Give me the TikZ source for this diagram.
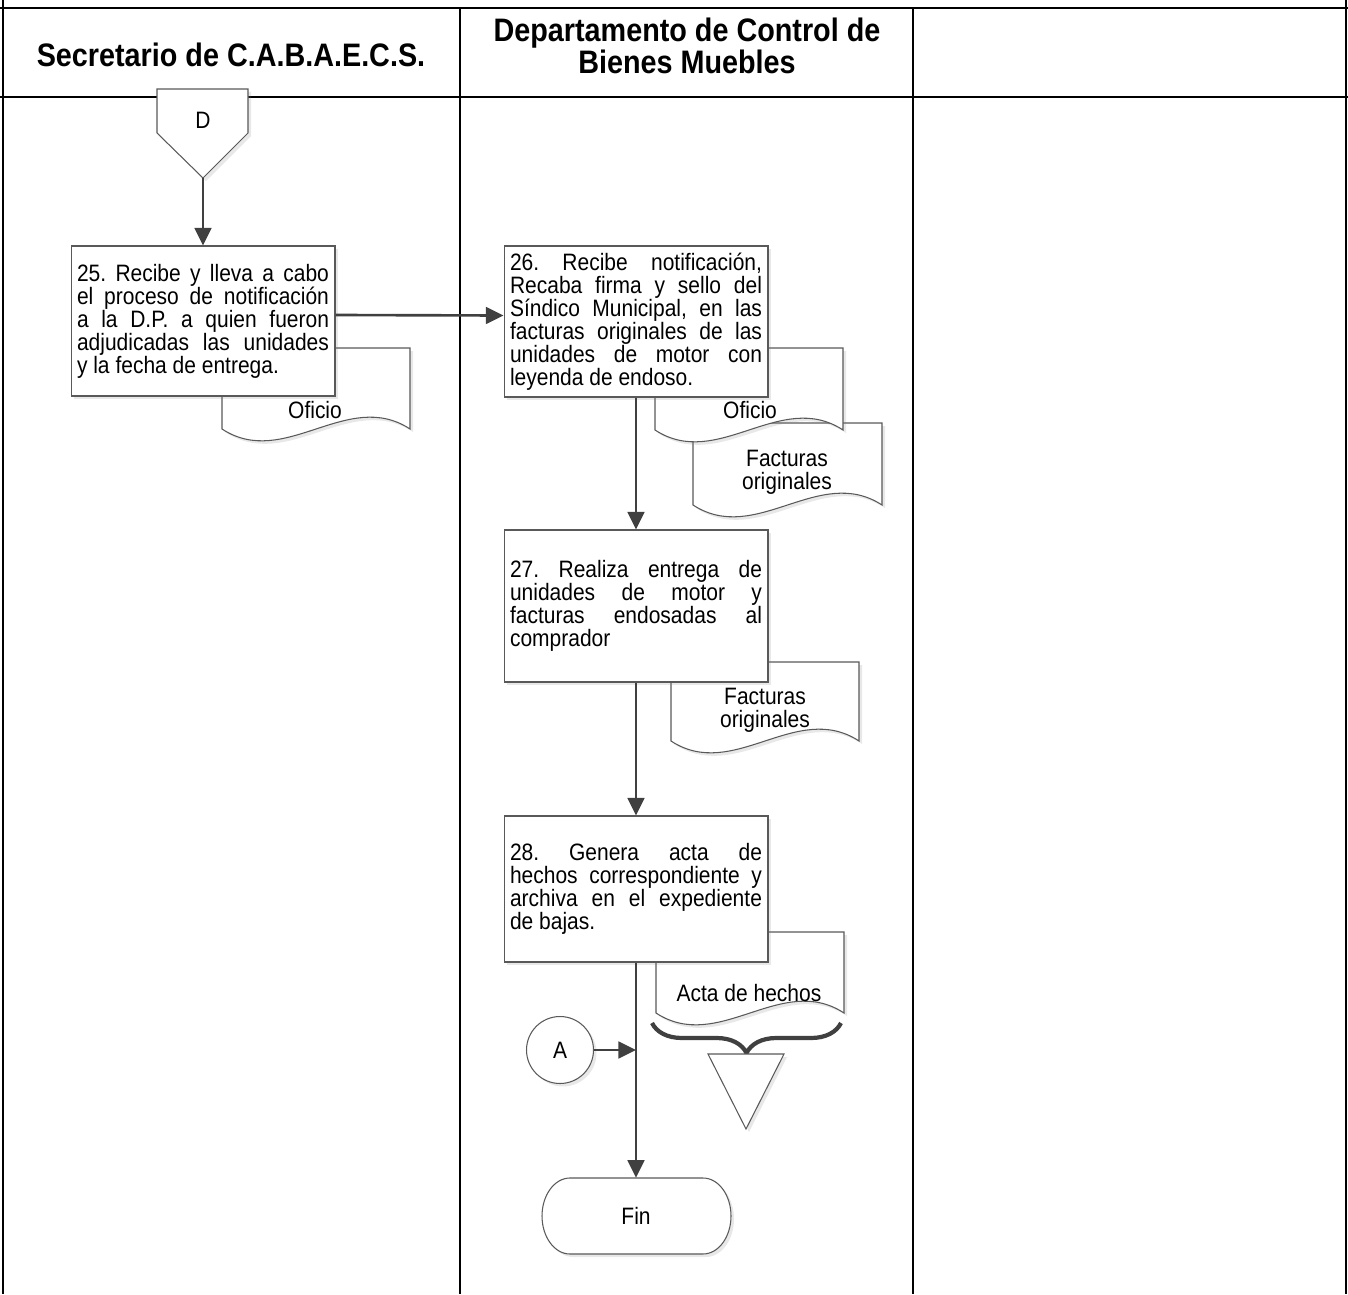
\documentclass[tikz,border=0pt]{standalone}
\usepackage{fontspec}
\setmainfont{Liberation Sans}[FakeStretch=0.885]
\usepackage{tikz}
\usetikzlibrary{arrows.meta,calc,shadows,decorations.pathreplacing}
\tolerance=10000
\hyphenpenalty=10000
\frenchspacing

\begin{document}
\begin{tikzpicture}[x=0.02cm,y=-0.02cm,
  lane/.style={line width=1.5pt},
  sep/.style={line width=0.9pt},
  hdr/.style={font=\bfseries\fontsize{18.5}{18.2}\selectfont,align=center,inner sep=0pt},
  shp/.style={draw=black!65,line width=0.6pt,fill=white,
    drop shadow={opacity=0.18,shadow xshift=0.06cm,shadow yshift=-0.06cm}},
  proc/.style={shp,rectangle,inner sep=0pt,minimum width=5.28cm,text width=5.04cm,
    align=justify,font=\fontsize{13.5}{13.1}\selectfont},
  lbl/.style={inner sep=0pt,align=center,font=\fontsize{13.5}{13.1}\selectfont},
  flow/.style={draw=black!75,line width=1.5pt,-{Triangle[length=10pt,width=9.5pt]}},
  brc/.style={draw=black!75,line width=2.4pt,decorate,decoration={brace,mirror,amplitude=0.6cm}}]
\useasboundingbox (0,0) rectangle (1348,1294);

% Swimlane table
\draw[lane] (0,8) -- (1348,8);
\draw[lane] (0,97) -- (1348,97);
\foreach \xl in {3,1346} \draw[sep] (\xl,0) -- (\xl,1294);
\foreach \xl in {460,913} \draw[sep] (\xl,8) -- (\xl,1294);
\node[hdr] (laneA) at (231,55) {Secretario de C.A.B.A.E.C.S.};
\node[hdr] (laneB) at (687,46) {Departamento de Control de\\Bienes Muebles};

% Documents (behind the process boxes)
\foreach \xa/\ya/\xb/\yb in {693/423/882/505, 655/348/843/430, 222/348/410/429,
                             671/662/859/741, 656/932/844/1013}
  \draw[shp] (\xa,\ya) -- (\xb,\ya) -- (\xb,\yb)
    .. controls ({\xa+2*(\xb-\xa)/3},{\yb-41}) and ({\xa+(\xb-\xa)/3},{\yb+41}) .. (\xa,\yb) -- cycle;
\node[lbl] (ofA) at (315,410) {Oficio};
\node[lbl] (ofB) at (750,410) {Oficio};
\node[lbl] (facA) at (787,472) {Facturas\\originales};
\node[lbl] (facB) at (765,710) {Facturas\\originales};
\node[lbl] (acta) at (749,993) {Acta de hechos};

% Off-page connector D
\draw[shp] (157,89) -- (248,89) -- (248,133) -- (203,178) -- (157,133) -- cycle;
\node[lbl] (offD) at (203,120) {D};
\coordinate (offDtip) at (203,178);

% Process steps
\node[proc,minimum height=3cm] (b25) at (203,321)
  {25. Recibe y lleva a cabo\linebreak el proceso de notificación\linebreak a la D.P. a quien fueron\linebreak adjudicadas las unidades\linebreak y la fecha de entrega.};
\node[proc,minimum height=3.02cm] (b26) at (636,321.5)
  {26. Recibe notificación,\linebreak Recaba firma y sello del\linebreak Síndico Municipal, en las\linebreak facturas originales de las\linebreak unidades de motor con\linebreak leyenda de endoso.};
\node[proc,minimum height=3.04cm] (b27) at (636,606)
  {27. Realiza entrega de\linebreak unidades de motor y\linebreak facturas endosadas al\linebreak comprador};
\node[proc,minimum height=2.92cm] (b28) at (636,889)
  {28. Genera acta de\linebreak hechos correspondiente y\linebreak archiva en el expediente\linebreak de bajas.};

% On-page connector A
\node[shp,circle,minimum size=1.34cm,inner sep=0pt,font=\fontsize{13.5}{13.1}\selectfont] (conA) at (560,1050) {A};

% Terminator
\draw[shp] (570,1178) -- (703,1178) arc[start angle=90,end angle=-90,x radius=0.56cm,y radius=0.76cm]
  -- (570,1254) arc[start angle=270,end angle=90,x radius=0.56cm,y radius=0.76cm] -- cycle;
\node[lbl,minimum width=3.78cm,minimum height=1.52cm] (fin) at (636,1216) {Fin};

% Archive
\draw[brc] (652,1023) -- (841,1023);
\draw[shp] (708,1054) -- (784,1054) -- (746,1129) -- cycle;

% Flow
\draw[flow] (offDtip) -- (b25);
\draw[flow] ([yshift=0.12cm]b25.east) -- ([yshift=0.12cm]b26.west);
\draw[flow] (b26) -- (b27);
\draw[flow] (b27) -- (b28);
\draw[flow] (b28) -- (fin);
\draw[flow] (conA) -- (conA -| fin.north);
\end{tikzpicture}
\end{document}
